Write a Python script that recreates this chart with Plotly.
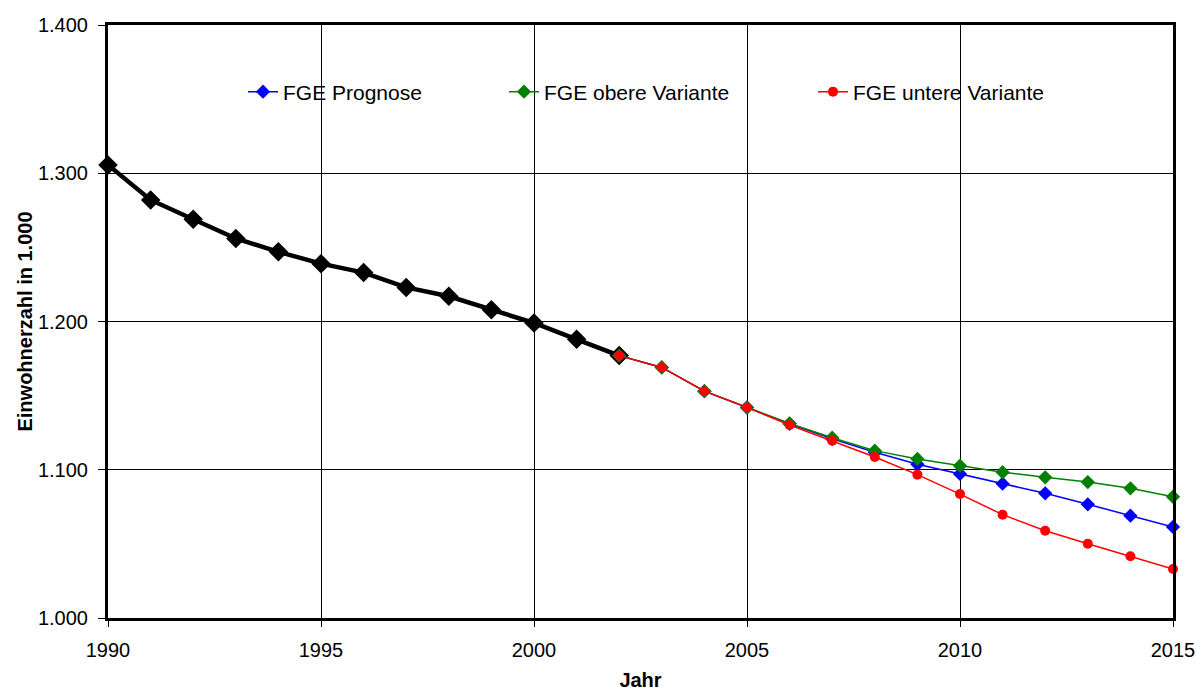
import plotly.graph_objects as go

years_hist = list(range(1990, 2003))
hist = [1305.6, 1282, 1269, 1256, 1247, 1239, 1233, 1223, 1217, 1208, 1199, 1188, 1177]

years_fc = list(range(2002, 2016))
prognose = [1177, 1169, 1153, 1142, 1131, 1120.8, 1111.8, 1103.7, 1097.2, 1090.6, 1084.1, 1076.7, 1069, 1061.4]
obere = [1177, 1169, 1153, 1142, 1131.3, 1121.6, 1112.9, 1107.3, 1102.7, 1098.3, 1094.9, 1091.7, 1087.5, 1081.8]
untere = [1177, 1169, 1153, 1142, 1130.2, 1119.6, 1108.6, 1096.7, 1083.6, 1069.7, 1058.9, 1050.1, 1041.6, 1033.1]

ytickvals = [1000, 1100, 1200, 1300, 1400]
yticktext = ["1.000", "1.100", "1.200", "1.300", "1.400"]
xtickvals = [1990, 1995, 2000, 2005, 2010, 2015]

FONT = "Arial, Liberation Sans, sans-serif"

fig = go.Figure()
fig.add_trace(go.Scatter(x=years_hist, y=hist, mode="lines+markers", showlegend=False,
                         line=dict(color="black", width=4.5),
                         marker=dict(symbol="diamond", size=15, color="black"),
                         cliponaxis=False))
fig.add_trace(go.Scatter(x=years_fc, y=prognose, mode="lines+markers", name="FGE Prognose",
                         line=dict(color="#0000ff", width=1.5),
                         marker=dict(symbol="diamond", size=11, color="#0000ff"),
                         cliponaxis=False, legend="legend"))
fig.add_trace(go.Scatter(x=years_fc, y=obere, mode="lines+markers", name="FGE obere Variante",
                         line=dict(color="#008000", width=1.5),
                         marker=dict(symbol="diamond", size=11, color="#008000"),
                         cliponaxis=False, legend="legend2"))
fig.add_trace(go.Scatter(x=years_fc, y=untere, mode="lines+markers", name="FGE untere Variante",
                         line=dict(color="#ff0000", width=1.5),
                         marker=dict(symbol="circle", size=10, color="#ff0000"),
                         cliponaxis=False, legend="legend3"))

def leg(px):
    return dict(x=(px - 108) / 1065, y=0.887, xanchor="left", yanchor="middle",
                orientation="h", bgcolor="rgba(0,0,0,0)",
                font=dict(family=FONT, size=21, color="black"))

fig.update_layout(
    width=1197, height=691,
    margin=dict(l=108, r=24, t=25, b=73),
    plot_bgcolor="white", paper_bgcolor="white",
    font=dict(family=FONT, size=20, color="black"),
    legend=leg(243), legend2=leg(504), legend3=leg(813),
    xaxis=dict(range=[1990, 2015], tickvals=xtickvals, showgrid=True, gridcolor="black",
               gridwidth=1, ticks="outside", ticklen=6, tickcolor="black",
               showline=True, linecolor="black", linewidth=3, mirror=True,
               ticklabelstandoff=6, zeroline=False, automargin=False,
               tickfont=dict(size=20),
               title=dict(text="<b>Jahr</b>", font=dict(size=20), standoff=24)),
    yaxis=dict(range=[1000, 1400], tickvals=ytickvals, ticktext=yticktext, showgrid=True,
               gridcolor="black", gridwidth=1, ticks="outside", ticklen=7, tickcolor="black",
               showline=True, linecolor="black", linewidth=3, mirror=True,
               ticklabelstandoff=6, zeroline=False, automargin=False,
               tickfont=dict(size=20),
               title=dict(text="<b>Einwohnerzahl in 1.000</b>", font=dict(size=20), standoff=0)),
)

fig.write_html("out.html")
